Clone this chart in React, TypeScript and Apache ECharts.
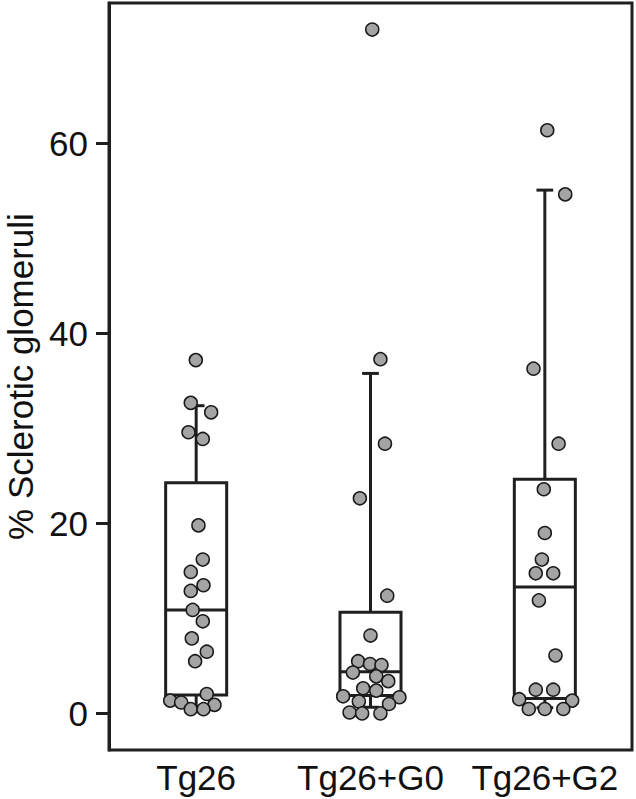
import React, { useEffect, useRef } from "react";
import * as echarts from "echarts";

const categories = ["Tg26", "Tg26+G0", "Tg26+G2"];
const yTicks = [0, 20, 40, 60];

// [lower whisker, Q1, median, Q3, upper whisker]
const boxStats = [
  [0.7, 1.95, 10.9, 24.3, 32.4],
  [0.65, 1.9, 4.4, 10.65, 35.8],
  [0.6, 1.56, 13.3, 24.65, 55.1],
];

const tg26Values = [37.2, 32.7, 31.7, 29.6, 28.9, 19.8, 16.2, 14.9, 13.5, 12.9, 10.9, 9.7, 7.9, 6.5, 5.5, 2.05, 1.35, 1.15, 0.9, 0.45, 0.45];
const tg26Jitter = [-0.002, -0.031, 0.086, -0.044, 0.038, 0.013, 0.038, -0.031, 0.042, -0.031, -0.02, 0.038, -0.025, 0.061, -0.006, 0.061, -0.149, -0.086, 0.105, -0.031, 0.042];

const g0Values = [37.3, 28.4, 22.65, 12.4, 8.2, 5.5, 5.2, 5.1, 4.3, 3.9, 3.4, 2.65, 2.4, 1.8, 1.7, 1.25, 1.0, 0.1, 0.0, 0.0, 72.0];
const g0Jitter = [0.057, 0.083, -0.061, 0.096, 0, -0.071, -0.003, 0.063, -0.101, 0.033, 0.102, -0.042, 0.033, -0.157, 0.166, -0.067, 0.106, -0.12, -0.048, 0.057, 0.01];

const g2Values = [61.4, 54.65, 36.3, 28.4, 23.6, 19.0, 16.2, 14.75, 14.75, 11.9, 6.1, 2.5, 2.5, 1.5, 1.35, 0.47, 0.47, 0.47];
const g2Jitter = [0.014, 0.117, -0.065, 0.079, -0.006, 0, -0.017, -0.052, 0.048, -0.034, 0.061, -0.052, 0.048, -0.147, 0.157, -0.092, 0, 0.106];

const groupValues = [tg26Values, g0Values, g2Values];
const groupJitter = [tg26Jitter, g0Jitter, g2Jitter];

const FONT = "'Liberation Sans', Arial, Helvetica, sans-serif";
const INK = "#1f1f1f";

export default function App() {
  const ref = useRef<HTMLDivElement>(null);

  useEffect(() => {
    if (!ref.current) return;
    const chart = echarts.init(ref.current, undefined, { renderer: "svg" });

    const boxData = boxStats.map((s, i) => [i, ...s]);
    const pointData: number[][] = [];
    groupValues.forEach((vals, gi) => {
      vals.forEach((v, k) => {
        pointData.push([gi + 1 + groupJitter[gi][k], v]);
      });
    });

    const option: any = {
      animation: false,
      backgroundColor: "#ffffff",
      grid: {
        left: 109,
        right: 4,
        top: 3,
        bottom: 49,
        containLabel: false,
        outerBoundsMode: "none",
        show: true,
        borderColor: INK,
        borderWidth: 3,
        backgroundColor: "transparent",
      },
      xAxis: [
        {
          type: "category",
          data: categories,
          boundaryGap: true,
          axisLine: { show: false },
          axisTick: { show: false },
          splitLine: { show: false },
          axisLabel: {
            interval: 0,
            hideOverlap: false,
            fontSize: 35,
            color: "#111",
            fontFamily: FONT,
            margin: 10,
          },
        },
        {
          type: "value",
          min: 0.5,
          max: 3.5,
          show: false,
          splitLine: { show: false },
        },
      ],
      yAxis: {
        type: "value",
        min: -3.85,
        max: 74.8,
        name: "% Sclerotic glomeruli",
        nameLocation: "middle",
        nameGap: 71,
        nameTextStyle: { fontSize: 35, lineHeight: 35, color: "#111", fontFamily: FONT },
        axisLine: { show: true, lineStyle: { color: INK, width: 3 } },
        axisTick: {
          show: true,
          length: 13,
          lineStyle: { color: INK, width: 3 },
          customValues: yTicks,
        },
        axisLabel: {
          fontSize: 35,
          color: "#111",
          fontFamily: FONT,
          margin: 21,
          customValues: yTicks,
        },
        splitLine: { show: false },
      },
      series: [
        {
          type: "custom",
          xAxisIndex: 0,
          yAxisIndex: 0,
          data: boxData,
          encode: { x: 0, y: [1, 2, 3, 4, 5] },
          renderItem: (params: any, api: any) => {
            const idx = api.value(0);
            const pLow = api.coord([idx, api.value(1)]);
            const pQ1 = api.coord([idx, api.value(2)]);
            const pMed = api.coord([idx, api.value(3)]);
            const pQ3 = api.coord([idx, api.value(4)]);
            const pHigh = api.coord([idx, api.value(5)]);
            const band = api.size([1, 0])[0];
            const half = band * 0.175;
            const cap = band * 0.048;
            const cx = pMed[0];
            const ls = { stroke: INK, lineWidth: 3, fill: null };
            return {
              type: "group",
              children: [
                {
                  type: "line",
                  shape: { x1: cx, y1: pQ3[1], x2: cx, y2: pHigh[1] },
                  style: ls,
                },
                {
                  type: "line",
                  shape: { x1: cx - cap, y1: pHigh[1], x2: cx + cap, y2: pHigh[1] },
                  style: ls,
                },
                {
                  type: "line",
                  shape: { x1: cx, y1: pQ1[1], x2: cx, y2: pLow[1] },
                  style: ls,
                },
                {
                  type: "line",
                  shape: { x1: cx - cap, y1: pLow[1], x2: cx + cap, y2: pLow[1] },
                  style: ls,
                },
                {
                  type: "rect",
                  shape: { x: cx - half, y: pQ3[1], width: half * 2, height: pQ1[1] - pQ3[1] },
                  style: { stroke: INK, lineWidth: 3, fill: "transparent" },
                },
                {
                  type: "line",
                  shape: { x1: cx - half, y1: pMed[1], x2: cx + half, y2: pMed[1] },
                  style: ls,
                },
              ],
            };
          },
          z: 2,
        },
        {
          type: "scatter",
          xAxisIndex: 1,
          yAxisIndex: 0,
          data: pointData,
          symbol: "circle",
          symbolSize: 13,
          itemStyle: { color: "#a4a4a4", borderColor: "#1a1a1a", borderWidth: 1.5, opacity: 1 },
          z: 3,
        },
      ],
    };

    chart.setOption(option);
    return () => chart.dispose();
  }, []);

  return (
    <div
      ref={ref}
      style={{ position: "fixed", left: 0, top: 0, width: 636, height: 799 }}
    />
  );
}
